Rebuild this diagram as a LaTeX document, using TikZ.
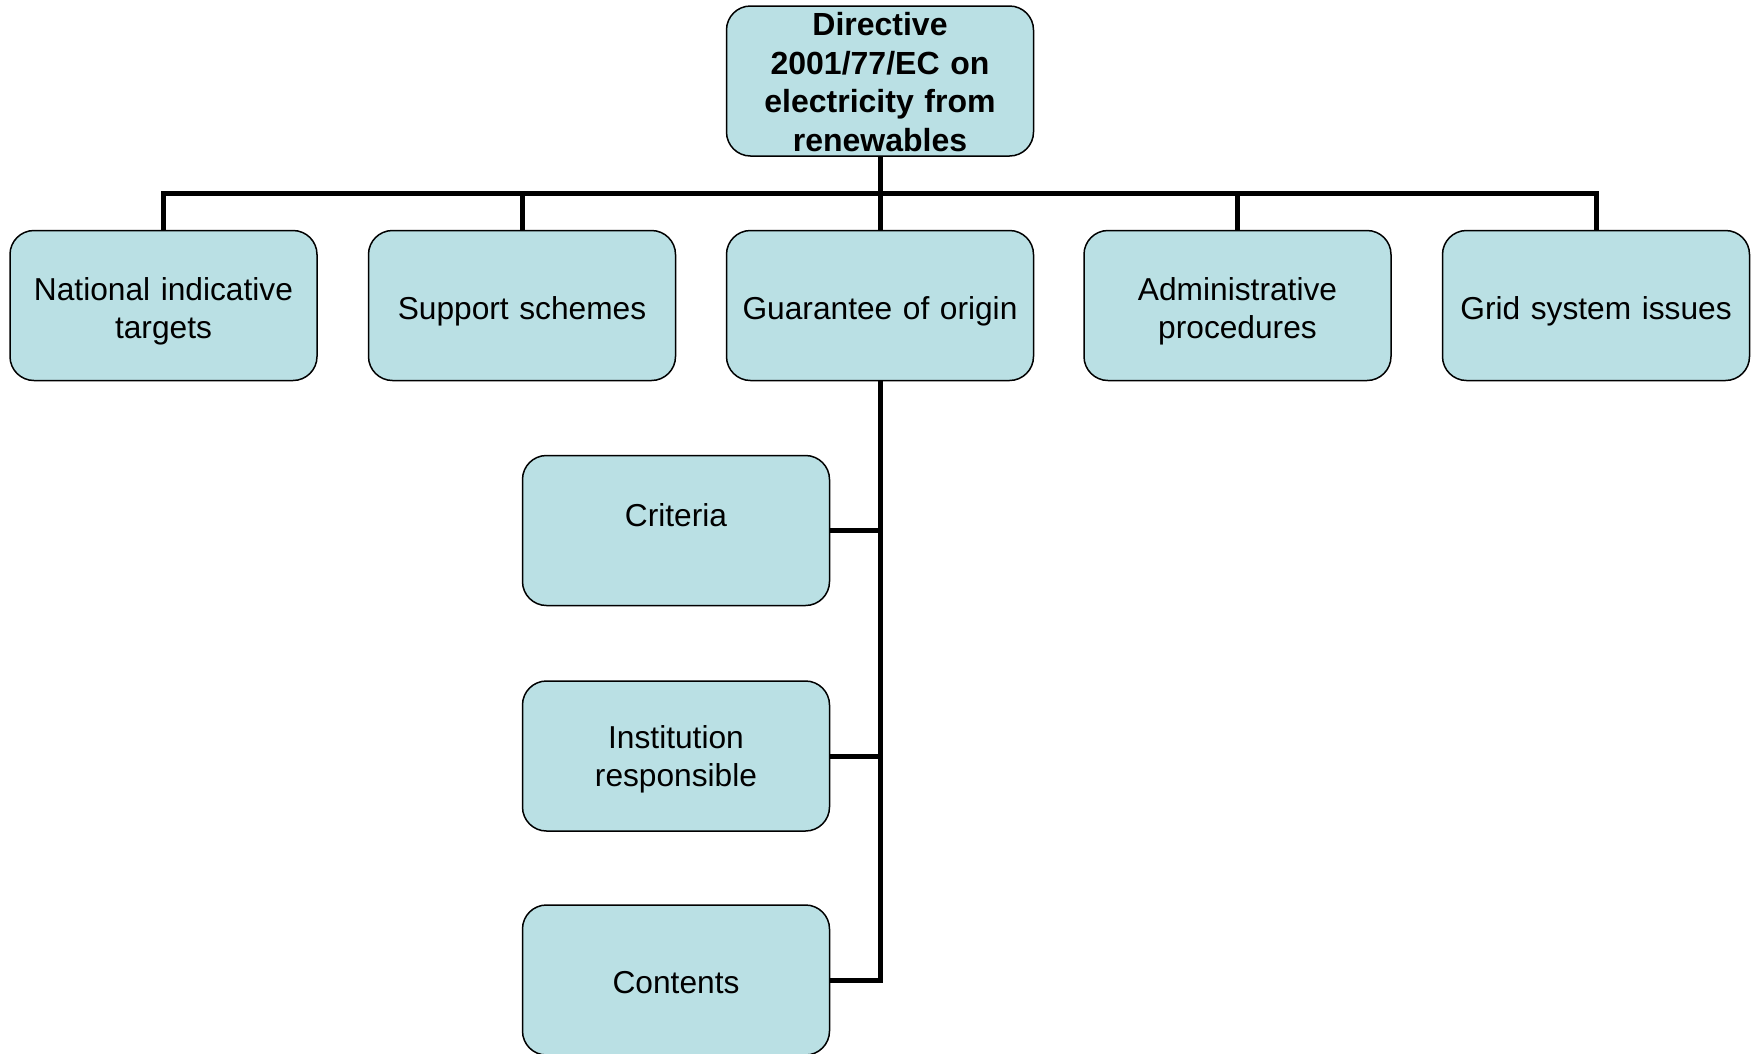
\documentclass[tikz,border=0pt]{standalone}
\usepackage{fontspec}
\setmainfont{Liberation Sans}
\definecolor{boxfill}{RGB}{186,224,228}
\begin{document}
\begin{tikzpicture}[x=1pt,y=-1pt,
  box/.style={draw=black, line width=1.5pt, fill=boxfill, rounded corners=24pt,
    minimum width=307pt, minimum height=150pt, inner sep=0pt, text width=300pt,
    align=center, font=\fontsize{31.7}{38}\selectfont},
  down/.style={execute at begin node={\rule{0pt}{#1}}},
  topbox/.style={box, font=\fontsize{32}{38.4}\selectfont\bfseries},
  conn/.style={draw=black, line width=5pt, line join=miter}]
\useasboundingbox (0,0) rectangle (1753,1053);
\node[topbox, down=25.5pt] (top) at (880,81) {Directive\\2001/77/EC on\\electricity from\\renewables};
\node[box, down=34pt] (n1) at (163.5,305.5) {National indicative\\targets};
\node[box, down=34pt] (n2) at (522,305.5) {Support schemes};
\node[box, down=34pt] (n3) at (880,305.5) {Guarantee of origin};
\node[box, down=34pt] (n4) at (1237.5,305.5) {Administrative\\procedures};
\node[box, down=34pt] (n5) at (1596,305.5) {Grid system issues};
\node[box, down=29pt] (c1) at (676,530.5) {Criteria\\\mbox{}};
\node[box, down=29pt] (c2) at (676,756) {Institution\\responsible};
\node[box, down=28pt] (c3) at (676,980) {Contents};
\coordinate (bar) at (0,193);
\foreach \n in {n1,n2,n3,n4,n5}
  \draw[conn] (top.south) -- (top.south |- bar) -| (\n.north);
\draw[conn] (n3.south) |- (c3.east);
\draw[conn] (c1.east) -- (c1.east -| n3.south);
\draw[conn] (c2.east) -- (c2.east -| n3.south);
\end{tikzpicture}
\end{document}
